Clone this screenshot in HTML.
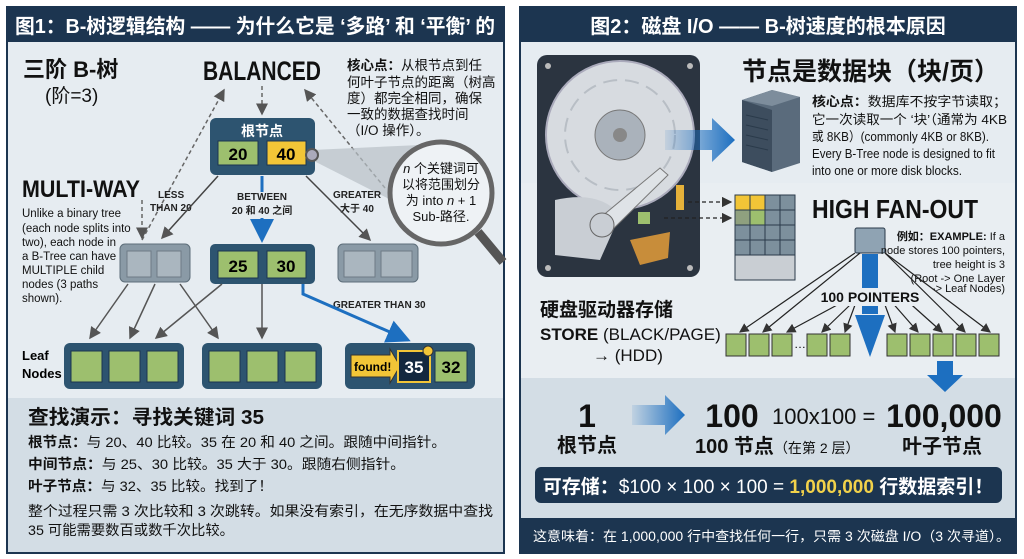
<!DOCTYPE html>
<html><head><meta charset="utf-8"><style>
body{margin:0;background:#fff;}
svg{display:block;font-family:"Liberation Sans","Noto Sans CJK SC",sans-serif;}
.b{font-weight:bold}
</style></head><body>
<svg width="1024" height="559" viewBox="0 0 1024 559" xmlns="http://www.w3.org/2000/svg">
<defs>
<marker id="ag" markerWidth="8" markerHeight="8" refX="7" refY="4" orient="auto"><path d="M0,0 L8,4 L0,8 z" fill="#555"/></marker>
<marker id="ab" markerWidth="8" markerHeight="8" refX="7" refY="4" orient="auto"><path d="M0,0 L8,4 L0,8 z" fill="#1d6fc0"/></marker>
<marker id="ad" markerWidth="8" markerHeight="8" refX="7" refY="4" orient="auto"><path d="M0,0 L8,4 L0,8 z" fill="#333"/></marker>
<linearGradient id="bg1" x1="0" x2="1"><stop offset="0" stop-color="#1d6fc0" stop-opacity="0.1"/><stop offset="1" stop-color="#1d6fc0"/></linearGradient>
</defs>
<!-- LEFT PANEL -->
<rect x="7" y="7" width="497" height="546" fill="#e6ecf1" stroke="#1c3550" stroke-width="2"/>
<rect x="7" y="7" width="497" height="35" fill="#1c3550"/>
<text x="15" y="33" fill="#fff" font-size="20" class="b" textLength="480" lengthAdjust="spacingAndGlyphs">图1：B-树逻辑结构 —— 为什么它是 ‘多路’ 和 ‘平衡’ 的</text>
<rect x="8" y="398" width="495" height="154" fill="#d3dde5"/>
<text x="23" y="77" font-size="22" class="b" fill="#111">三阶 B-树</text>
<text x="45" y="102" font-size="19" fill="#111">(阶=3)</text>
<text x="203" y="80" font-size="27" class="b" fill="#111" textLength="118" lengthAdjust="spacingAndGlyphs">BALANCED</text>
<g font-size="13.5" fill="#111">
<text x="347" y="70"><tspan class="b">核心点：</tspan>从根节点到任</text>
<text x="347" y="87">何叶子节点的距离（树高</text>
<text x="347" y="103">度）都完全相同，确保</text>
<text x="347" y="119">一致的数据查找时间</text>
<text x="347" y="135">（I/O 操作）。</text>
</g>
<g stroke="#666" stroke-width="1.5" stroke-dasharray="4,3" fill="none">
<line x1="262" y1="86" x2="262" y2="114" marker-end="url(#ag)"/>
<line x1="142" y1="240" x2="224" y2="90" marker-end="url(#ag)"/>
<line x1="142" y1="200" x2="142" y2="238" marker-end="url(#ag)"/>
<line x1="385" y1="188" x2="305" y2="90" marker-end="url(#ag)"/>
</g>
<polygon points="312,150 420,145 470,240 312,160" fill="#b8c0c6" opacity="0.7"/>
<line x1="478" y1="232" x2="503" y2="262" stroke="#555" stroke-width="9"/>
<circle cx="441" cy="193" r="51" fill="#eef2f5" stroke="#666" stroke-width="5"/>
<g font-size="13" fill="#111" text-anchor="middle">
<text x="441" y="173"><tspan font-style="italic">n</tspan> 个关键词可</text>
<text x="441" y="189">以将范围划分</text>
<text x="441" y="205">为 into <tspan font-style="italic">n</tspan> + 1</text>
<text x="441" y="221">Sub-路径.</text>
</g>
<rect x="210" y="118" width="105" height="57" rx="6" fill="#2d5470"/>
<text x="262" y="136" fill="#fff" font-size="14" class="b" text-anchor="middle">根节点</text>
<rect x="218" y="141" width="40" height="24" fill="#9dbf6e" stroke="#1c3550"/>
<rect x="267" y="141" width="39" height="24" fill="#f2c537" stroke="#1c3550"/>
<text x="238" y="160" font-size="17" class="b" text-anchor="middle">20</text>
<text x="286" y="160" font-size="17" class="b" text-anchor="middle">40</text>
<circle cx="312" cy="155" r="6" fill="#aab" stroke="#555" stroke-width="2"/>
<text x="22" y="197" font-size="24" class="b" fill="#111" textLength="118" lengthAdjust="spacingAndGlyphs">MULTI-WAY</text>
<g font-size="11.5" fill="#111">
<text x="22" y="217">Unlike a binary tree</text>
<text x="22" y="232">(each node splits into</text>
<text x="22" y="246">two), each node in</text>
<text x="22" y="260">a B-Tree can have</text>
<text x="22" y="274">MULTIPLE child</text>
<text x="22" y="288">nodes (3 paths</text>
<text x="22" y="302">shown).</text>
</g>
<g font-size="10" class="b" fill="#222">
<text x="158" y="198">LESS</text><text x="150" y="211">THAN 20</text>
<text x="262" y="200" text-anchor="middle">BETWEEN</text><text x="262" y="214" text-anchor="middle">20 和 40 之间</text>
<text x="333" y="198">GREATER</text><text x="340" y="212">大于 40</text>
<text x="333" y="308">GREATER THAN 30</text>
</g>
<line x1="218" y1="176" x2="162" y2="238" stroke="#444" stroke-width="1.5" marker-end="url(#ag)"/>
<line x1="262" y1="218" x2="262" y2="240" stroke="#1d6fc0" stroke-width="3" marker-end="url(#ab)"/>
<line x1="262" y1="176" x2="262" y2="192" stroke="#1d6fc0" stroke-width="3"/>
<line x1="306" y1="176" x2="370" y2="240" stroke="#444" stroke-width="1.5" marker-end="url(#ag)"/>
<rect x="120" y="244" width="70" height="38" rx="5" fill="#8a9aa6" stroke="#5d6e7a"/>
<rect x="127" y="251" width="24" height="26" fill="#aab6bf" stroke="#6d7b86"/><rect x="157" y="251" width="24" height="26" fill="#aab6bf" stroke="#6d7b86"/>
<rect x="210" y="244" width="105" height="40" rx="5" fill="#2d5470"/>
<rect x="218" y="251" width="40" height="27" fill="#9dbf6e" stroke="#1c3550"/><rect x="267" y="251" width="39" height="27" fill="#9dbf6e" stroke="#1c3550"/>
<text x="238" y="272" font-size="17" class="b" text-anchor="middle">25</text><text x="286" y="272" font-size="17" class="b" text-anchor="middle">30</text>
<rect x="338" y="244" width="80" height="38" rx="5" fill="#8a9aa6" stroke="#5d6e7a"/>
<rect x="344" y="251" width="31" height="26" fill="#aab6bf" stroke="#6d7b86"/><rect x="381" y="251" width="31" height="26" fill="#aab6bf" stroke="#6d7b86"/>
<g stroke="#555" stroke-width="1.5">
<line x1="128" y1="284" x2="90" y2="338" marker-end="url(#ag)"/>
<line x1="155" y1="284" x2="130" y2="338" marker-end="url(#ag)"/>
<line x1="180" y1="284" x2="218" y2="338" marker-end="url(#ag)"/>
<line x1="222" y1="284" x2="156" y2="338" marker-end="url(#ag)"/>
<line x1="262" y1="284" x2="262" y2="338" marker-end="url(#ag)"/>
</g>
<polyline points="303,284 303,294 408,340" fill="none" stroke="#1d6fc0" stroke-width="3" marker-end="url(#ab)"/>
<text x="22" y="360" font-size="13" class="b">Leaf</text>
<text x="22" y="378" font-size="13" class="b">Nodes</text>
<rect x="64" y="343" width="120" height="46" rx="6" fill="#2d5470"/>
<rect x="71" y="351" width="31" height="31" fill="#9dbf6e" stroke="#1c3550"/><rect x="109" y="351" width="31" height="31" fill="#9dbf6e" stroke="#1c3550"/><rect x="147" y="351" width="31" height="31" fill="#9dbf6e" stroke="#1c3550"/>
<rect x="202" y="343" width="120" height="46" rx="6" fill="#2d5470"/>
<rect x="209" y="351" width="31" height="31" fill="#9dbf6e" stroke="#1c3550"/><rect x="247" y="351" width="31" height="31" fill="#9dbf6e" stroke="#1c3550"/><rect x="285" y="351" width="31" height="31" fill="#9dbf6e" stroke="#1c3550"/>
<rect x="345" y="343" width="130" height="46" rx="6" fill="#2d5470"/>
<polygon points="351,355 390,355 390,349 400,366 390,383 390,377 351,377" fill="#f2c537" stroke="#333"/>
<text x="354" y="371" font-size="12" class="b">found!</text>
<rect x="398" y="351" width="32" height="31" fill="#13283f" stroke="#f2c537" stroke-width="2"/>
<text x="414" y="373" font-size="17" class="b" fill="#fff" text-anchor="middle">35</text>
<circle cx="428" cy="351" r="5" fill="#f2c537" stroke="#333"/>
<rect x="435" y="351" width="32" height="31" fill="#9dbf6e" stroke="#1c3550"/>
<text x="451" y="373" font-size="17" class="b" text-anchor="middle">32</text>
<text x="28" y="424" font-size="20" class="b" fill="#111" textLength="236" lengthAdjust="spacingAndGlyphs">查找演示：寻找关键词 35</text>
<g font-size="14" fill="#111">
<text x="28" y="447" textLength="418" lengthAdjust="spacingAndGlyphs"><tspan class="b">根节点：</tspan>与 20、40 比较。35 在 20 和 40 之间。跟随中间指针。</text>
<text x="28" y="469" textLength="377" lengthAdjust="spacingAndGlyphs"><tspan class="b">中间节点：</tspan>与 25、30 比较。35 大于 30。跟随右侧指针。</text>
<text x="28" y="491" textLength="245" lengthAdjust="spacingAndGlyphs"><tspan class="b">叶子节点：</tspan>与 32、35 比较。找到了！</text>
<text x="28" y="516" textLength="465" lengthAdjust="spacingAndGlyphs">整个过程只需 3 次比较和 3 次跳转。如果没有索引，在无序数据中查找</text>
<text x="28" y="535" textLength="206" lengthAdjust="spacingAndGlyphs">35 可能需要数百或数千次比较。</text>
</g>
<!-- RIGHT PANEL -->
<rect x="520" y="7" width="496" height="546" fill="#e6ecf1" stroke="#1c3550" stroke-width="2"/>
<rect x="520" y="7" width="496" height="35" fill="#1c3550"/>
<text x="768" y="33" fill="#fff" font-size="20" class="b" text-anchor="middle">图2：磁盘 I/O —— B-树速度的根本原因</text>
<rect x="521" y="183" width="494" height="195" fill="#e9eef2"/>
<rect x="521" y="378" width="494" height="141" fill="#d3dde5"/>
<rect x="520" y="518" width="496" height="35" fill="#1c3550"/>
<rect x="537" y="55" width="163" height="222" rx="10" fill="#2b3440"/>
<g fill="#bbb"><circle cx="548" cy="66" r="3"/><circle cx="690" cy="66" r="3"/><circle cx="548" cy="268" r="3"/><circle cx="690" cy="268" r="3"/></g>
<circle cx="620" cy="135" r="74" fill="#d7dbe0" stroke="#aab" stroke-width="2"/>
<circle cx="620" cy="135" r="55" fill="none" stroke="#b8bec5" stroke-width="2" stroke-dasharray="14,8"/>
<circle cx="620" cy="135" r="25" fill="#aab2bb" stroke="#777"/>
<circle cx="620" cy="135" r="7" fill="#888"/>
<path d="M555,200 Q600,190 620,215 L600,260 L555,255 Z" fill="#c9ced4"/>
<polygon points="595,222 660,168 668,175 612,230" fill="#dfe3e7" stroke="#777"/>
<circle cx="602" cy="225" r="12" fill="#c9ced4" stroke="#666"/>
<rect x="638" y="212" width="12" height="12" fill="#9dbf6e"/>
<polygon points="630,240 670,232 668,258 640,265" fill="#c88d3a"/>
<rect x="676" y="185" width="8" height="25" fill="#e5b13a"/>
<polygon points="665,130 712,130 712,118 735,140 712,162 712,150 665,150" fill="url(#bg1)"/>
<!-- server -->
<polygon points="742,100 772,90 800,97 800,163 772,172 742,162" fill="#5a6b7c"/>
<polygon points="742,100 772,110 772,172 742,162" fill="#3d4d5e"/>
<polygon points="742,100 772,90 800,97 772,106" fill="#7d8d9c"/>
<g stroke="#2a3a4a"><line x1="746" y1="115" x2="768" y2="120"/><line x1="746" y1="125" x2="768" y2="130"/><line x1="746" y1="135" x2="768" y2="140"/><line x1="746" y1="145" x2="768" y2="150"/></g>
<text x="742" y="80" font-size="25" class="b" fill="#111">节点是数据块（块/页）</text>
<g font-size="13" fill="#111">
<text x="812" y="106" textLength="195" lengthAdjust="spacingAndGlyphs"><tspan class="b">核心点：</tspan>数据库不按字节读取；</text>
<text x="812" y="124" textLength="195" lengthAdjust="spacingAndGlyphs">它一次读取一个 ‘块’（通常为 4KB</text>
<text x="812" y="141" textLength="177" lengthAdjust="spacingAndGlyphs">或 8KB）(commonly 4KB or 8KB).</text>
<text x="812" y="158" textLength="183" lengthAdjust="spacingAndGlyphs">Every B-Tree node is designed to fit</text>
<text x="812" y="175" textLength="150" lengthAdjust="spacingAndGlyphs">into one or more disk blocks.</text>
</g>
<g stroke="#2a3a4a" stroke-width="1">
<rect x="735" y="195" width="60" height="85" fill="#c9ced3"/>
<rect x="735" y="195" width="15" height="15" fill="#f2c537"/><rect x="750" y="195" width="15" height="15" fill="#f2c537"/><rect x="765" y="195" width="15" height="15" fill="#7d909d"/><rect x="780" y="195" width="15" height="15" fill="#7d909d"/>
<rect x="735" y="210" width="15" height="15" fill="#8fa07f"/><rect x="750" y="210" width="15" height="15" fill="#9dbf6e"/><rect x="765" y="210" width="15" height="15" fill="#7d909d"/><rect x="780" y="210" width="15" height="15" fill="#7d909d"/>
<rect x="735" y="225" width="15" height="15" fill="#7d909d"/><rect x="750" y="225" width="15" height="15" fill="#7d909d"/><rect x="765" y="225" width="15" height="15" fill="#7d909d"/><rect x="780" y="225" width="15" height="15" fill="#7d909d"/>
<rect x="735" y="240" width="15" height="15" fill="#7d909d"/><rect x="750" y="240" width="15" height="15" fill="#7d909d"/><rect x="765" y="240" width="15" height="15" fill="#7d909d"/><rect x="780" y="240" width="15" height="15" fill="#7d909d"/>
</g>
<g stroke="#222" stroke-width="1.3" stroke-dasharray="4,3"><line x1="688" y1="202" x2="731" y2="202" marker-end="url(#ad)"/><line x1="664" y1="218" x2="731" y2="218" marker-end="url(#ad)"/></g>
<text x="812" y="218" font-size="26" class="b" fill="#111" textLength="166" lengthAdjust="spacingAndGlyphs">HIGH FAN-OUT</text>
<rect x="855" y="228" width="30" height="25" rx="2" fill="#8fa3b3" stroke="#2a3a4a"/>
<g font-size="11" fill="#111" text-anchor="end">
<text x="1005" y="240"><tspan class="b">例如：EXAMPLE:</tspan> If a</text>
<text x="1005" y="254">node stores 100 pointers,</text>
<text x="1005" y="268">tree height is 3</text>
<text x="1005" y="282">(Root -&gt; One Layer</text>
<text x="1005" y="292">-&gt; Leaf Nodes)</text>
</g>
<g stroke="#222" stroke-width="1.2">
<line x1="855" y1="253" x2="740" y2="332" marker-end="url(#ad)"/>
<line x1="860" y1="253" x2="763" y2="332" marker-end="url(#ad)"/>
<line x1="865" y1="290" x2="787" y2="332" marker-end="url(#ad)"/>
<line x1="850" y1="305" x2="822" y2="332" marker-end="url(#ad)"/>
<line x1="855" y1="305" x2="845" y2="332" marker-end="url(#ad)"/>
<line x1="885" y1="305" x2="895" y2="332" marker-end="url(#ad)"/>
<line x1="890" y1="300" x2="918" y2="332" marker-end="url(#ad)"/>
<line x1="895" y1="290" x2="942" y2="332" marker-end="url(#ad)"/>
<line x1="885" y1="253" x2="965" y2="332" marker-end="url(#ad)"/>
<line x1="885" y1="253" x2="990" y2="332" marker-end="url(#ad)"/>
</g>
<rect x="862" y="254" width="16" height="60" fill="#1d6fc0"/>
<polygon points="855,315 885,315 870,357" fill="#1d6fc0"/>
<rect x="826" y="288" width="88" height="18" fill="#e9eef2"/>
<text x="870" y="302" font-size="14" class="b" text-anchor="middle" fill="#111">100 POINTERS</text>
<g fill="#9dbf6e" stroke="#333">
<rect x="726" y="334" width="20" height="22"/><rect x="749" y="334" width="20" height="22"/><rect x="772" y="334" width="20" height="22"/>
<rect x="807" y="334" width="20" height="22"/><rect x="830" y="334" width="20" height="22"/>
<rect x="887" y="334" width="20" height="22"/><rect x="910" y="334" width="20" height="22"/><rect x="933" y="334" width="20" height="22"/><rect x="956" y="334" width="20" height="22"/><rect x="979" y="334" width="20" height="22"/>
</g>
<text x="794" y="348" font-size="12">…</text>
<rect x="937" y="361" width="16" height="15" fill="#1d6fc0"/>
<polygon points="927,375 963,375 945,392" fill="#1d6fc0"/>
<text x="540" y="316" font-size="19" class="b" fill="#111">硬盘驱动器存储</text>
<text x="540" y="340" font-size="17" fill="#111"><tspan class="b">STORE</tspan> (BLACK/PAGE)</text>
<text x="593" y="361" font-size="17" fill="#111">→ (HDD)</text>
<text x="587" y="427" font-size="32" class="b" text-anchor="middle" fill="#111">1</text>
<text x="587" y="452" font-size="20" class="b" text-anchor="middle" fill="#111">根节点</text>
<polygon points="632,405 665,405 665,395 685,415 665,435 665,425 632,425" fill="url(#bg1)"/>
<text x="732" y="427" font-size="32" class="b" text-anchor="middle" fill="#111">100</text>
<text x="772" y="424" font-size="22" fill="#111">100x100 =</text>
<text x="944" y="427" font-size="32" class="b" text-anchor="middle" fill="#111">100,000</text>
<text x="695" y="453" font-size="20" class="b" fill="#111">100 节点<tspan font-size="14" font-weight="normal">（在第 2 层）</tspan></text>
<text x="942" y="453" font-size="20" class="b" text-anchor="middle" fill="#111">叶子节点</text>
<rect x="535" y="467" width="467" height="36" rx="6" fill="#1c3550"/>
<text x="768" y="493" font-size="19" fill="#fff" text-anchor="middle"><tspan class="b">可存储：</tspan>$100 × 100 × 100 = <tspan fill="#f2d24a" class="b">1,000,000</tspan> <tspan class="b">行数据索引！</tspan></text>
<text x="533" y="541" font-size="13.5" fill="#fff" textLength="477" lengthAdjust="spacingAndGlyphs">这意味着：在 1,000,000 行中查找任何一行，只需 3 次磁盘 I/O（3 次寻道）。</text>
</svg>
</body></html>
